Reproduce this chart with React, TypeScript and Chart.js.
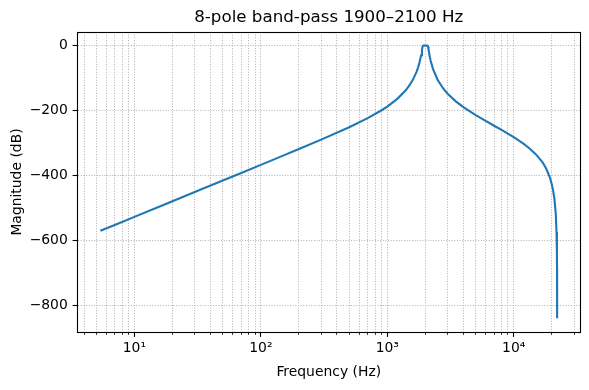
import React, { useEffect, useRef } from 'react';
import { Chart, registerables } from 'chart.js';

Chart.register(...registerables);

const TITLE = '8-pole band-pass 1900–2100 Hz';
const X_LABEL = 'Frequency (Hz)';
const Y_LABEL = 'Magnitude (dB)';

const frequencyHz = [
  5.38, 7, 10, 15, 20, 30, 50, 70, 100, 150, 200, 300, 500, 700, 881, 1000,
  1200, 1400, 1500, 1600, 1700, 1750, 1800, 1850, 1880, 1900, 1920, 1950,
  2000, 2050, 2080, 2100, 2120, 2150, 2200, 2300, 2500, 2750, 3000, 3500,
  4000, 5000, 6000, 7000, 8000, 10000, 12000, 13270, 15000, 16900, 18000,
  19300, 20000, 20500, 21000, 21500, 21800, 21950, 22000, 22020, 22035, 22044.6,
];

const magnitudeDb = [
  -570.5, -552.3, -527.5, -499.3, -479.3, -451.1, -415.6, -392.2, -367.3,
  -338.9, -318.6, -289.6, -251.2, -223.2, -201.3, -187.6, -163.9, -137.4,
  -121.9, -103.8, -81.5, -67.6, -50.9, -29.7, -13.5, -3.0, -0.1, 0, 0, 0,
  -0.1, -3.0, -12.3, -26.8, -45.8, -72.3, -105.0, -130.4, -148.0, -172.4,
  -189.6, -214.0, -232.0, -246.7, -259.5, -281.8, -302.5, -316, -335, -359.5,
  -378, -406, -427, -446.8, -474, -519, -574, -638, -686, -721, -769, -840,
];

const xMajorTicks = [10, 100, 1000, 10000];
const xTickLabels = ['10¹', '10²', '10³', '10⁴'];
const xMinorTicks = [
  4, 5, 6, 7, 8, 9, 20, 30, 40, 50, 60, 70, 80, 90, 200, 300, 400, 500, 600,
  700, 800, 900, 2000, 3000, 4000, 5000, 6000, 7000, 8000, 9000, 20000, 30000,
];
const yTicks = [-800, -600, -400, -200, 0];
const xRange = [3.549, 33420];
const yRange = [-882.3, 42];

const FONT = 'DejaVu Sans';

const align = (p: number, w: number) => Math.round(p - w / 2) + w / 2;

const mplPlugin = {
  id: 'mplFrame',
  afterDraw(chart: any) {
    const { ctx, chartArea: a, scales } = chart;
    ctx.save();
    ctx.strokeStyle = '#000';
    ctx.setLineDash([]);
    const xs = scales.x;
    for (const t of xs.ticks) {
      const major = xMajorTicks.includes(t.value);
      const px = align(xs.getPixelForValue(t.value), 1);
      ctx.lineWidth = major ? 1.1 : 0.85;
      ctx.beginPath();
      ctx.moveTo(px, a.bottom);
      ctx.lineTo(px, a.bottom + (major ? 4.9 : 2.8));
      ctx.stroke();
    }
    const ys = scales.y;
    for (const t of ys.ticks) {
      const py = align(ys.getPixelForValue(t.value), 1);
      ctx.lineWidth = 1.1;
      ctx.beginPath();
      ctx.moveTo(a.left, py);
      ctx.lineTo(a.left - 4.9, py);
      ctx.stroke();
    }
    ctx.lineWidth = 1.1;
    ctx.strokeRect(
      align(a.left, 1),
      align(a.top, 1),
      align(a.right, 1) - align(a.left, 1),
      align(a.bottom, 1) - align(a.top, 1)
    );
    ctx.restore();
  },
};

export default function App() {
  const ref = useRef<HTMLCanvasElement | null>(null);

  useEffect(() => {
    if (!ref.current) return;
    const allXTicks = [...xMajorTicks, ...xMinorTicks].sort((p, q) => p - q);
    const chart = new Chart(ref.current, {
      type: 'line',
      data: {
        datasets: [
          {
            data: frequencyHz.map((f, i) => ({ x: f, y: magnitudeDb[i] })),
            borderColor: '#1f77b4',
            borderWidth: 2.1,
            pointRadius: 0,
            fill: false,
            tension: 0,
          },
        ],
      },
      options: {
        animation: false,
        responsive: false,
        devicePixelRatio: 1,
        layout: { padding: { left: 0, right: 9, top: 0, bottom: 0 } },
        plugins: {
          legend: { display: false },
          tooltip: { enabled: false },
          title: {
            display: true,
            fullSize: false,
            text: TITLE,
            color: '#000',
            font: { family: FONT, size: 16.7, weight: 'normal', lineHeight: 1.2 },
            padding: { top: 8, bottom: 4 },
          },
        },
        scales: {
          x: {
            type: 'logarithmic',
            min: xRange[0],
            max: xRange[1],
            afterBuildTicks: (scale: any) => {
              scale.ticks = allXTicks.map((v) => ({ value: v }));
            },
            afterFit: (scale: any) => {
              scale.height = 58;
            },
            border: { display: false, dash: [1, 1.65] },
            grid: {
              color: '#b0b0b0',
              lineWidth: 1,
              drawTicks: false,
            },
            ticks: {
              autoSkip: false,
              maxRotation: 0,
              minRotation: 0,
              padding: 8,
              color: '#000',
              font: { family: FONT, size: 13.9 },
              callback: (value: any) => {
                const i = xMajorTicks.indexOf(Number(value));
                return i >= 0 ? xTickLabels[i] : '';
              },
            },
            title: {
              display: true,
              text: X_LABEL,
              color: '#000',
              font: { family: FONT, size: 13.9, lineHeight: 1.2 },
              padding: { top: 0, bottom: 9.6 },
            },
          },
          y: {
            type: 'linear',
            min: yRange[0],
            max: yRange[1],
            afterBuildTicks: (scale: any) => {
              scale.ticks = yTicks.map((v) => ({ value: v }));
            },
            afterFit: (scale: any) => {
              scale.width = 77.5;
            },
            border: { display: false, dash: [1, 1.65] },
            grid: {
              color: '#b0b0b0',
              lineWidth: 1,
              drawTicks: false,
            },
            ticks: {
              padding: 9.7,
              color: '#000',
              font: { family: FONT, size: 13.9 },
              callback: (value: any) => {
                const v = Number(value);
                return v < 0 ? '−' + Math.abs(v) : String(v);
              },
            },
            title: {
              display: true,
              text: Y_LABEL,
              color: '#000',
              font: { family: FONT, size: 13.9, lineHeight: 1.2 },
              padding: { top: 8.6, bottom: 0 },
            },
          },
        },
      },
      plugins: [mplPlugin],
    } as any);
    return () => chart.destroy();
  }, []);

  return (
    <div style={{ position: 'fixed', left: 0, top: 0, width: 589, height: 390, background: '#fff' }}>
      <canvas ref={ref} width={589} height={390} style={{ display: 'block', width: 589, height: 390 }} />
    </div>
  );
}
